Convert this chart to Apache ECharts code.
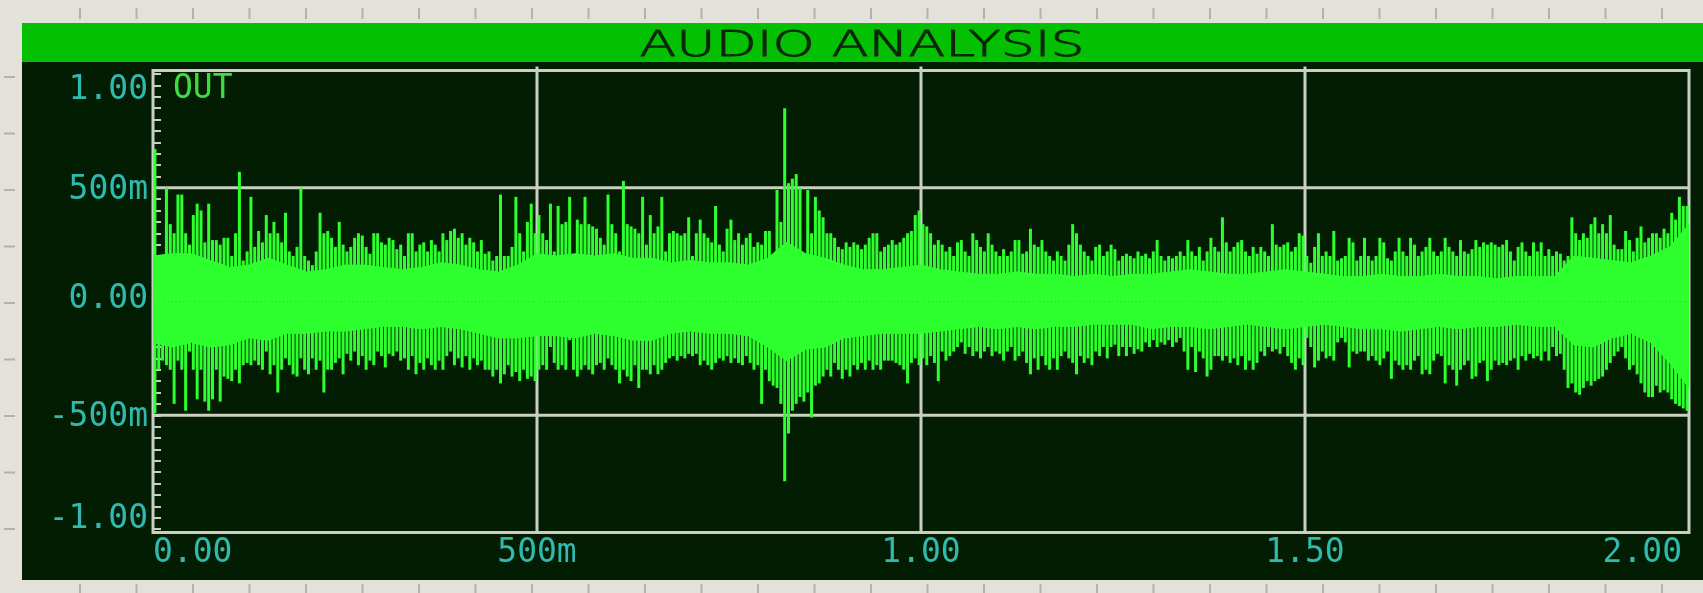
<!DOCTYPE html>
<html>
<head>
<meta charset="utf-8">
<title>AUDIO ANALYSIS</title>
<script src="https://cdn.jsdelivr.net/npm/echarts@6.0.0/dist/echarts.min.js"></script>
<style>
  html, body { margin: 0; padding: 0; background: #e3e2da; }
  #chart { width: 1703px; height: 593px; }
</style>
</head>
<body>
<div id="chart"></div>
<script>
// ---- Axis ticks -----------------------------------------------------------
const xTickValues = [0, 0.5, 1, 1.5, 2];                 // seconds
const xTickLabels = ['0.00', '500m', '1.00', '1.50', '2.00'];
const yTickValues = [-1, -0.5, 0, 0.5, 1];               // volts
const yTickLabels = ['-1.00', '-500m', '0.00', '500m', '1.00'];

const titleText = 'AUDIO ANALYSIS';
const traceName = 'OUT';

// Plot frame reaches a little past the +/-1.00 ticks
const frameSpan = 1.015;

// ---- Dense core of the trace, one value every 25 ms (0 .. 2 s) ----------
const coreStep = 0.025;
const coreHi = [
  0.2,0.21,0.21,0.18,0.15,0.16,0.19,0.16,0.13,0.14,
  0.16,0.16,0.15,0.14,0.15,0.17,0.16,0.14,0.13,0.16,
  0.21,0.2,0.21,0.2,0.21,0.19,0.19,0.17,0.18,0.17,
  0.17,0.16,0.19,0.26,0.21,0.19,0.16,0.14,0.14,0.15,
  0.16,0.14,0.13,0.12,0.12,0.13,0.12,0.12,0.11,0.12,
  0.11,0.12,0.12,0.13,0.14,0.13,0.12,0.12,0.13,0.14,
  0.13,0.12,0.11,0.11,0.12,0.11,0.11,0.12,0.11,0.11,
  0.1,0.11,0.11,0.11,0.2,0.19,0.18,0.17,0.2,0.24,
  0.34
];
const coreLo = [
  -0.18,-0.2,-0.18,-0.2,-0.19,-0.16,-0.17,-0.14,-0.14,-0.13,
  -0.13,-0.12,-0.11,-0.11,-0.12,-0.11,-0.12,-0.14,-0.16,-0.16,
  -0.15,-0.15,-0.16,-0.14,-0.15,-0.17,-0.17,-0.14,-0.13,-0.14,
  -0.14,-0.15,-0.2,-0.26,-0.21,-0.2,-0.16,-0.15,-0.14,-0.14,
  -0.14,-0.13,-0.12,-0.11,-0.12,-0.11,-0.12,-0.11,-0.11,-0.1,
  -0.1,-0.1,-0.12,-0.11,-0.11,-0.12,-0.11,-0.1,-0.11,-0.12,
  -0.11,-0.1,-0.11,-0.12,-0.12,-0.13,-0.12,-0.11,-0.12,-0.11,
  -0.11,-0.1,-0.11,-0.11,-0.19,-0.2,-0.16,-0.14,-0.18,-0.27,
  -0.38
];

// ---- Peak excursions per 5 ms column (400 columns) ----------------------
const peakStep = 0.005;
const peakHi = [
  // 0.0 - 0.5 s
  0.67,0.2,0.17,0.5,0.34,0.3,0.47,0.47,0.3,0.25,
  0.38,0.43,0.4,0.26,0.43,0.27,0.27,0.25,0.28,0.28,
  0.2,0.3,0.57,0.18,0.22,0.46,0.24,0.31,0.26,0.38,
  0.3,0.35,0.3,0.26,0.39,0.22,0.2,0.24,0.5,0.2,
  0.18,0.16,0.22,0.39,0.3,0.31,0.28,0.24,0.35,0.25,
  0.22,0.24,0.28,0.3,0.29,0.24,0.21,0.3,0.3,0.26,
  0.25,0.28,0.27,0.23,0.25,0.2,0.3,0.3,0.22,0.25,
  0.26,0.22,0.27,0.25,0.22,0.3,0.27,0.31,0.32,0.28,
  0.3,0.25,0.28,0.26,0.22,0.27,0.21,0.22,0.18,0.2,
  0.47,0.2,0.2,0.24,0.46,0.3,0.22,0.35,0.43,0.3,
  // 0.5 - 1.0 s
  0.38,0.3,0.27,0.43,0.22,0.42,0.34,0.35,0.46,0.2,
  0.36,0.34,0.46,0.34,0.33,0.32,0.28,0.25,0.47,0.34,
  0.3,0.22,0.53,0.34,0.33,0.32,0.3,0.46,0.25,0.38,
  0.3,0.33,0.46,0.22,0.3,0.31,0.3,0.29,0.3,0.37,
  0.2,0.3,0.36,0.3,0.28,0.26,0.42,0.25,0.22,0.32,
  0.36,0.27,0.3,0.25,0.28,0.3,0.24,0.26,0.25,0.31,
  0.31,0.2,0.49,0.35,0.85,0.52,0.54,0.56,0.5,0.15,
  0.49,0.3,0.46,0.4,0.37,0.3,0.3,0.28,0.24,0.23,
  0.26,0.24,0.26,0.25,0.23,0.25,0.28,0.3,0.3,0.22,
  0.24,0.25,0.27,0.25,0.26,0.28,0.3,0.31,0.38,0.4,
  // 1.0 - 1.5 s
  0.34,0.33,0.3,0.25,0.27,0.25,0.22,0.24,0.2,0.26,
  0.27,0.22,0.2,0.3,0.27,0.24,0.22,0.3,0.25,0.22,
  0.2,0.23,0.2,0.22,0.27,0.27,0.21,0.22,0.32,0.25,
  0.24,0.27,0.22,0.2,0.18,0.22,0.2,0.18,0.25,0.34,
  0.3,0.25,0.22,0.2,0.18,0.24,0.25,0.2,0.22,0.25,
  0.23,0.18,0.2,0.21,0.2,0.19,0.22,0.2,0.21,0.19,
  0.22,0.27,0.2,0.18,0.2,0.19,0.2,0.22,0.2,0.27,
  0.22,0.2,0.24,0.18,0.22,0.28,0.24,0.22,0.37,0.26,
  0.22,0.24,0.26,0.27,0.22,0.2,0.24,0.21,0.24,0.22,
  0.2,0.34,0.25,0.24,0.25,0.26,0.22,0.24,0.3,0.29,
  // 1.5 - 2.0 s
  0.2,0.17,0.24,0.3,0.2,0.22,0.2,0.31,0.18,0.19,
  0.2,0.28,0.26,0.18,0.2,0.28,0.2,0.18,0.2,0.28,
  0.26,0.19,0.18,0.22,0.28,0.22,0.2,0.28,0.25,0.2,
  0.22,0.24,0.28,0.22,0.2,0.22,0.28,0.24,0.22,0.2,
  0.27,0.22,0.21,0.23,0.27,0.24,0.26,0.25,0.26,0.25,
  0.24,0.25,0.27,0.22,0.18,0.24,0.26,0.22,0.2,0.26,
  0.22,0.26,0.2,0.23,0.2,0.22,0.21,0.18,0.2,0.37,
  0.3,0.27,0.3,0.28,0.34,0.37,0.3,0.34,0.3,0.38,
  0.25,0.23,0.23,0.31,0.27,0.22,0.28,0.33,0.26,0.28,
  0.3,0.3,0.28,0.32,0.3,0.39,0.36,0.46,0.42,0.42
];
const peakLo = [
  // 0.0 - 0.5 s
  -0.49,-0.3,-0.26,-0.28,-0.3,-0.45,-0.26,-0.3,-0.48,-0.22,
  -0.3,-0.43,-0.3,-0.44,-0.48,-0.43,-0.3,-0.44,-0.33,-0.34,
  -0.35,-0.3,-0.36,-0.28,-0.27,-0.28,-0.26,-0.28,-0.3,-0.22,
  -0.32,-0.28,-0.4,-0.3,-0.25,-0.28,-0.32,-0.33,-0.25,-0.3,
  -0.32,-0.25,-0.3,-0.26,-0.4,-0.3,-0.3,-0.27,-0.25,-0.32,
  -0.23,-0.26,-0.22,-0.28,-0.24,-0.3,-0.26,-0.28,-0.22,-0.24,
  -0.29,-0.23,-0.24,-0.22,-0.26,-0.25,-0.3,-0.24,-0.32,-0.27,
  -0.3,-0.25,-0.28,-0.3,-0.26,-0.3,-0.24,-0.22,-0.28,-0.25,
  -0.29,-0.24,-0.3,-0.25,-0.28,-0.26,-0.3,-0.3,-0.33,-0.3,
  -0.36,-0.32,-0.28,-0.33,-0.31,-0.35,-0.3,-0.34,-0.33,-0.35,
  // 0.5 - 1.0 s
  -0.3,-0.28,-0.3,-0.2,-0.27,-0.3,-0.28,-0.3,-0.17,-0.3,
  -0.33,-0.3,-0.28,-0.3,-0.32,-0.28,-0.27,-0.3,-0.25,-0.28,
  -0.3,-0.36,-0.3,-0.33,-0.35,-0.28,-0.38,-0.3,-0.3,-0.32,
  -0.28,-0.32,-0.3,-0.27,-0.25,-0.24,-0.26,-0.24,-0.25,-0.23,
  -0.24,-0.23,-0.28,-0.26,-0.28,-0.3,-0.27,-0.25,-0.26,-0.24,
  -0.27,-0.25,-0.27,-0.28,-0.24,-0.27,-0.3,-0.28,-0.45,-0.3,
  -0.35,-0.37,-0.38,-0.45,-0.79,-0.58,-0.48,-0.45,-0.42,-0.44,
  -0.4,-0.51,-0.37,-0.36,-0.33,-0.3,-0.33,-0.27,-0.3,-0.34,
  -0.3,-0.33,-0.28,-0.3,-0.27,-0.3,-0.26,-0.3,-0.28,-0.3,
  -0.26,-0.26,-0.26,-0.27,-0.28,-0.3,-0.36,-0.27,-0.25,-0.28,
  // 1.0 - 1.5 s
  -0.25,-0.28,-0.24,-0.27,-0.35,-0.22,-0.26,-0.24,-0.22,-0.2,
  -0.18,-0.23,-0.2,-0.24,-0.22,-0.25,-0.22,-0.2,-0.24,-0.22,
  -0.23,-0.26,-0.22,-0.2,-0.26,-0.24,-0.22,-0.27,-0.32,-0.25,
  -0.3,-0.24,-0.28,-0.3,-0.25,-0.3,-0.24,-0.22,-0.25,-0.27,
  -0.32,-0.24,-0.27,-0.25,-0.28,-0.22,-0.24,-0.2,-0.25,-0.2,
  -0.19,-0.24,-0.2,-0.24,-0.2,-0.23,-0.21,-0.22,-0.18,-0.2,
  -0.17,-0.2,-0.18,-0.19,-0.17,-0.2,-0.18,-0.16,-0.22,-0.3,
  -0.2,-0.31,-0.22,-0.25,-0.33,-0.3,-0.24,-0.24,-0.26,-0.24,
  -0.27,-0.25,-0.28,-0.24,-0.3,-0.26,-0.3,-0.27,-0.22,-0.24,
  -0.2,-0.22,-0.21,-0.23,-0.2,-0.24,-0.27,-0.3,-0.25,-0.28,
  // 1.5 - 2.0 s
  -0.16,-0.2,-0.29,-0.26,-0.22,-0.25,-0.24,-0.26,-0.18,-0.16,
  -0.18,-0.29,-0.22,-0.23,-0.22,-0.22,-0.26,-0.24,-0.26,-0.28,
  -0.25,-0.22,-0.34,-0.26,-0.28,-0.3,-0.28,-0.3,-0.26,-0.24,
  -0.32,-0.3,-0.32,-0.26,-0.23,-0.24,-0.36,-0.28,-0.3,-0.37,
  -0.3,-0.28,-0.26,-0.34,-0.33,-0.27,-0.26,-0.35,-0.3,-0.26,
  -0.28,-0.27,-0.28,-0.26,-0.25,-0.3,-0.24,-0.26,-0.23,-0.25,
  -0.24,-0.26,-0.22,-0.26,-0.2,-0.24,-0.23,-0.3,-0.38,-0.36,
  -0.4,-0.41,-0.38,-0.35,-0.37,-0.35,-0.34,-0.33,-0.3,-0.27,
  -0.24,-0.22,-0.2,-0.25,-0.3,-0.28,-0.32,-0.36,-0.4,-0.42,
  -0.42,-0.37,-0.4,-0.39,-0.4,-0.43,-0.45,-0.46,-0.47,-0.48
];

// ---- Look ----------------------------------------------------------------
const W = 1703, H = 593;
const sheetColor = '#e3e2da';
const rulerColor = '#b3b1a8';
const panelColor = '#021d02';
const barColor   = '#03c003';
const titleColor = '#0c260c';
const gridColor  = '#c9cfc3';
const labelColor = '#2fb9af';
const nameColor  = '#42da42';
const waveColor  = '#2eff2e';
const monoFamily = '"DejaVu Sans Mono", "Liberation Mono", monospace';
const labelSize  = 33;
const columnWidth = 3.0;

// vertical nudge (px, + is down) of each amplitude label from its tick
const yLabelShift = [-9.5, 2.5, -2, 3, 16];

const measureCtx = document.createElement('canvas').getContext('2d');
function textWidth(str, font) { measureCtx.font = font; return measureCtx.measureText(str).width; }

const labelFont = labelSize + 'px ' + monoFamily;
const firstXW = textWidth(xTickLabels[0], labelFont);
const lastXW  = textWidth(xTickLabels[xTickLabels.length - 1], labelFont);

const titleFont = '200 36px "DejaVu Sans"';
const titleScale = 445 / textWidth(titleText, titleFont);

const labelText = { color: labelColor, fontFamily: monoFamily, fontSize: labelSize };
const yRich = {};
yLabelShift.forEach((s, i) => {
  yRich['y' + i] = Object.assign({ padding: s >= 0 ? [2 * s, 0, 0, 0] : [0, 0, -2 * s, 0] }, labelText);
});

// ---- Series data ---------------------------------------------------------
const coreUpper = coreHi.map((v, i) => [i * coreStep, v]);
const coreLower = coreLo.map((v, i) => [i * coreStep, v]);
const peaks = peakHi.map((v, i) => [(i + 0.5) * peakStep, peakLo[i], v]);

// Decorative ruler marks on the sheet around the graph
const sheetMarks = [];
for (let x = 80; x < W - 10; x += 56.5) {
  sheetMarks.push({ type: 'line', z: -9, silent: true, shape: { x1: x, y1: 8, x2: x, y2: 19 }, style: { stroke: rulerColor, lineWidth: 2 } });
  sheetMarks.push({ type: 'line', z: -9, silent: true, shape: { x1: x, y1: 584, x2: x, y2: 593 }, style: { stroke: rulerColor, lineWidth: 2 } });
}
for (let y = 77; y < H - 20; y += 56.5) {
  sheetMarks.push({ type: 'line', z: -9, silent: true, shape: { x1: 4, y1: y, x2: 15, y2: y }, style: { stroke: rulerColor, lineWidth: 2 } });
}

// ---- Renderers -----------------------------------------------------------
function renderFrame(params, api) {
  const tl = api.coord([xTickValues[0], frameSpan]);
  const br = api.coord([xTickValues[xTickValues.length - 1], -frameSpan]);
  const lineStyle = { stroke: gridColor, lineWidth: 3, fill: null };
  const children = [];
  yTickValues.forEach(v => {
    if (v === 0 || Math.abs(v) >= 1) return;
    const p = api.coord([0, v]);
    children.push({ type: 'line', shape: { x1: tl[0], y1: p[1], x2: br[0], y2: p[1] }, style: lineStyle });
  });
  xTickValues.slice(1, -1).forEach(v => {
    const p = api.coord([v, 0]);
    children.push({ type: 'line', shape: { x1: p[0], y1: tl[1] - 4, x2: p[0], y2: br[1] }, style: lineStyle });
  });
  children.push({ type: 'rect', shape: { x: tl[0], y: tl[1], width: br[0] - tl[0], height: br[1] - tl[1] }, style: lineStyle });
  return { type: 'group', children };
}

function renderPeak(params, api) {
  const t = api.value(0);
  const top = api.coord([t, api.value(2)]);
  const bot = api.coord([t, api.value(1)]);
  return { type: 'rect', shape: { x: top[0] - columnWidth / 2, y: top[1], width: columnWidth, height: bot[1] - top[1] }, style: { fill: waveColor } };
}

// ---- Chart ---------------------------------------------------------------
const chart = echarts.init(document.getElementById('chart'), null, { renderer: 'canvas', width: W, height: H });

const tickStyle = { color: gridColor, width: 2 };

chart.setOption({
  animation: false,
  backgroundColor: sheetColor,
  graphic: [
    { type: 'rect', z: -10, silent: true, shape: { x: 22, y: 62, width: W - 22, height: 518 }, style: { fill: panelColor } },
    { type: 'rect', z: -10, silent: true, shape: { x: 22, y: 23, width: W - 22, height: 39 }, style: { fill: barColor } },
    ...sheetMarks,
    { type: 'text', z: 10, silent: true, x: 862, y: 47, scaleX: titleScale,
      style: { text: titleText, font: titleFont, fill: titleColor, stroke: titleColor, lineWidth: 0.9,
               align: 'center', verticalAlign: 'middle' } }
  ],
  legend: {
    data: [traceName], left: 167, top: 73, padding: 0,
    itemWidth: 0, itemHeight: 0, itemGap: 0, selectedMode: false,
    textStyle: { fontFamily: monoFamily, fontSize: labelSize, color: nameColor }
  },
  grid: { left: 153, right: 14, top: 74, bottom: 64, containLabel: false },
  xAxis: {
    type: 'value', min: xTickValues[0], max: xTickValues[xTickValues.length - 1], interval: 0.5,
    offset: 3.4,
    axisLine: { show: false },
    axisTick: { show: true, inside: true, length: 8, lineStyle: tickStyle },
    minorTick: { show: true, splitNumber: 10, length: 8, lineStyle: tickStyle },
    splitLine: { show: false },
    axisLabel: Object.assign({
      margin: 5,
      formatter: v => {
        const i = xTickValues.indexOf(v);
        if (i < 0) return '';
        if (i === 0) return '{first|' + xTickLabels[i] + '}';
        if (i === xTickValues.length - 1) return '{last|' + xTickLabels[i] + '}';
        return xTickLabels[i];
      },
      rich: {
        first: Object.assign({ padding: [0, 0, 0, firstXW] }, labelText),
        last:  Object.assign({ padding: [0, lastXW + 14, 0, 0] }, labelText)
      }
    }, labelText)
  },
  yAxis: {
    type: 'value', min: yTickValues[0], max: yTickValues[yTickValues.length - 1], interval: 0.5,
    axisLine: { show: false },
    axisTick: { show: true, inside: true, length: 8, lineStyle: tickStyle },
    minorTick: { show: true, splitNumber: 10, length: 8, lineStyle: tickStyle },
    splitLine: { show: false },
    axisLabel: Object.assign({
      margin: 5,
      formatter: v => {
        const i = yTickValues.indexOf(v);
        return i < 0 ? '' : '{y' + i + '|' + yTickLabels[i] + '}';
      },
      rich: yRich
    }, labelText)
  },
  series: [
    {
      name: 'frame', type: 'custom', z: 1, silent: true, clip: false,
      renderItem: renderFrame, data: [[0, 0]], encode: { x: 0, y: 1 }
    },
    {
      name: traceName, type: 'line', z: 3, silent: true, showSymbol: false, symbol: 'none',
      data: coreUpper, lineStyle: { width: 1, color: waveColor }, itemStyle: { color: waveColor },
      areaStyle: { color: waveColor, opacity: 1 }
    },
    {
      name: traceName, type: 'line', z: 3, silent: true, showSymbol: false, symbol: 'none',
      data: coreLower, lineStyle: { width: 1, color: waveColor }, itemStyle: { color: waveColor },
      areaStyle: { color: waveColor, opacity: 1 }
    },
    {
      name: traceName, type: 'custom', z: 3, silent: true, clip: false,
      renderItem: renderPeak, data: peaks, encode: { x: 0, y: [1, 2] }, itemStyle: { color: waveColor }
    }
  ]
});
</script>
</body>
</html>
